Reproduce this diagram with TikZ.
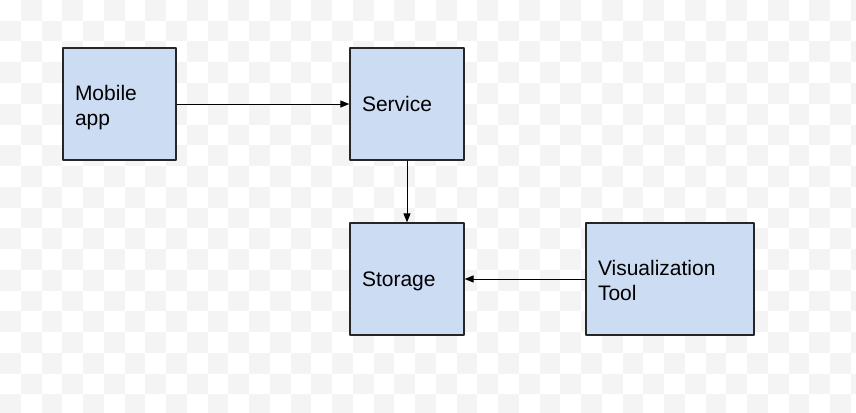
\documentclass[tikz,border=0pt]{standalone}
\usepackage{fontspec}
\setmainfont{Liberation Sans}
\usetikzlibrary{arrows.meta}
\definecolor{boxblue}{HTML}{CCDCF3}
\definecolor{checkgrey}{HTML}{F4F4F4}
\begin{document}
\begin{tikzpicture}[x=1pt,y=-1pt,font=\fontsize{21}{25}\selectfont,line join=round,>={Triangle[length=9pt,width=7pt]},
	blk/.style={draw=black!85,line width=1.3pt,fill=boxblue,minimum height=112pt,inner xsep=12pt,align=left,text depth=0pt},
	blktwo/.style={blk,text depth=21.5pt}]
			\useasboundingbox (0,0) rectangle (856,412);
			\foreach \i in {0,...,41} \foreach \j in {0,...,19} {\pgfmathparse{int(mod(\i+\j,2))}\ifnum\pgfmathresult=1 \fill[checkgrey] (\i*20.75,\j*20.75) rectangle ++(20.75,20.75);\fi}
			\node[blktwo,text width=89pt] (mob) at (119.5,104) {Mobile\\app};
			\node[blk,text width=90pt] (srv) at (407,104) {Service};
			\node[blk,text width=90pt] (sto) at (407,279) {Storage};
			\node[blktwo,text width=144pt] (vis) at (670,279) {Visualization\\Tool};
			\draw[->,line width=1pt] (mob)--(srv);\draw[->,line width=1pt] (srv)--(sto);\draw[->,line width=1pt] (vis)--(sto);
			\end{tikzpicture}
\end{document}
